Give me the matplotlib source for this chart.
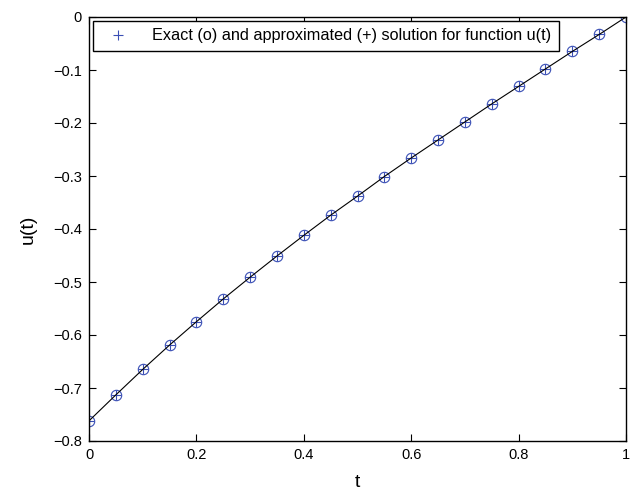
import numpy as np
import matplotlib.pyplot as plt

plt.rcParams['font.family'] = ['Liberation Sans', 'DejaVu Sans']

# grid points and solution values
t = [0.0, 0.05, 0.1, 0.15, 0.2, 0.25, 0.3, 0.35, 0.4, 0.45, 0.5,
     0.55, 0.6, 0.65, 0.7, 0.75, 0.8, 0.85, 0.9, 0.95, 1.0]
u_exact = [-0.762, -0.713, -0.665, -0.619, -0.575, -0.532, -0.491, -0.451,
           -0.412, -0.374, -0.338, -0.301, -0.266, -0.232, -0.198, -0.164,
           -0.131, -0.098, -0.065, -0.033, 0.0]
u_approx = list(u_exact)

xticks = [0, 0.2, 0.4, 0.6, 0.8, 1]
xlabels = ['0', '0.2', '0.4', '0.6', '0.8', '1']
yticks = [-0.8, -0.7, -0.6, -0.5, -0.4, -0.3, -0.2, -0.1, 0]
ylabels = ['\u22120.8', '\u22120.7', '\u22120.6', '\u22120.5', '\u22120.4',
           '\u22120.3', '\u22120.2', '\u22120.1', '0']

blue = '#3a4fb5'

fig = plt.figure(figsize=(6.35, 4.92), dpi=100)
ax = fig.add_axes([89/635, 51/492, 537/635, 424/492])

ax.plot(t, u_approx, '+', color=blue, markersize=7.5, markeredgewidth=0.8,
        label='Exact (o) and approximated (+) solution for function u(t)')
ax.plot(t, u_exact, 'o', color=blue, markersize=7.5, markerfacecolor='none',
        markeredgewidth=0.8)
ax.plot(t, u_exact, '-', color='black', linewidth=0.8)

ax.set_xlim(0, 1)
ax.set_ylim(-0.8, 0)
ax.set_xticks(xticks)
ax.set_xticklabels(xlabels)
ax.set_yticks(yticks)
ax.set_yticklabels(ylabels)
ax.tick_params(direction='in', top=True, right=True, labelsize=10.5,
               length=5, pad=5)
for s in ax.spines.values():
    s.set_linewidth(1.0)
ax.set_xlabel('t', fontsize=14, labelpad=9)
ax.set_ylabel('u(t)', fontsize=14, labelpad=12)

ax.legend(loc='upper left', fontsize=11.7, fancybox=False, edgecolor='black',
          framealpha=1, handlelength=2.2, handletextpad=1.0, borderpad=0.45,
          bbox_to_anchor=(0.0, 1.0), borderaxespad=0.25)

fig.savefig('out.png', dpi=100)
